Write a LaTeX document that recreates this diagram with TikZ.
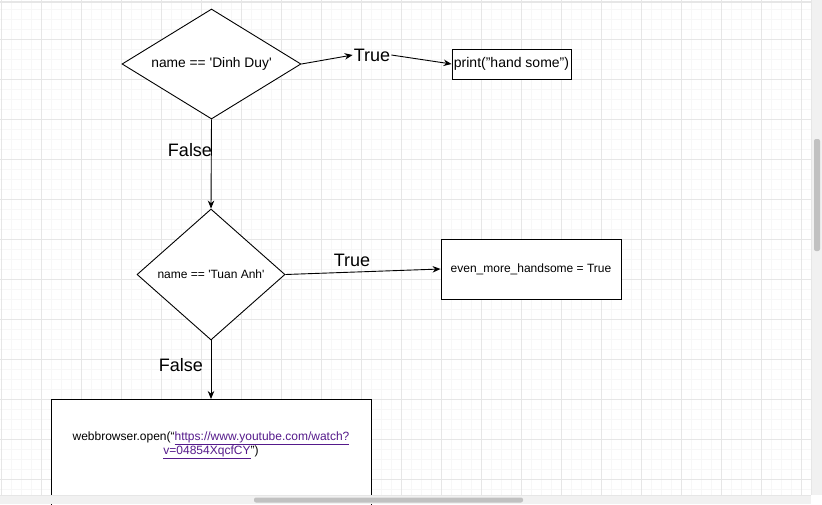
\documentclass[tikz,border=0pt]{standalone}
\usepackage{fontspec}
\setmainfont{Liberation Sans}
\usetikzlibrary{shapes.geometric,arrows.meta}
\definecolor{gridminor}{RGB}{247,247,247}
\definecolor{gridmajor}{RGB}{230,230,230}
\definecolor{sbbg}{RGB}{241,241,241}
\definecolor{sbthumb}{RGB}{193,193,193}
\definecolor{linkcol}{RGB}{85,26,139}
\tikzset{
  shapeline/.style={draw=black, line width=0.9pt},
  decision/.style={shapeline, diamond, inner sep=0pt, fill=white},
  procbox/.style={shapeline, rectangle, inner sep=0pt, fill=white},
  lbl/.style={inner sep=1pt, font=\fontsize{18}{20}\selectfont},
  arr/.style={line width=0.9pt, -{Stealth[length=8pt,width=6.5pt]}},
}
\begin{document}
\begin{tikzpicture}[x=1pt,y=-1pt]
\useasboundingbox (0,0) rectangle (822,504);
\clip (0,0) rectangle (822,504);
\fill[white] (0,0) rectangle (822,504);
% grid
\foreach \i in {0,...,81} {\draw[gridminor, line width=0.8pt] ({1+10*\i},0) -- ({1+10*\i},504);}
\foreach \j in {0,...,50} {\draw[gridminor, line width=0.8pt] (0,{-1+10*\j}) -- (822,{-1+10*\j});}
\foreach \i in {0,...,20} {\draw[gridmajor, line width=0.9pt] ({1+40*\i},0) -- ({1+40*\i},504);}
\foreach \j in {1,...,12} {\draw[gridmajor, line width=0.9pt] (0,{-1+40*\j}) -- (822,{-1+40*\j});}
\draw[gridmajor, line width=2pt] (0,1.5) -- (822,1.5);

% nodes
\node[decision, aspect=1.63, minimum width=179pt, minimum height=110pt,
      font=\fontsize{13.8}{16}\selectfont] (d1) at (211.5,64) {name == \textquotesingle Dinh Duy\textquotesingle};
\node[lbl] (t1) at (372,55) {True};
\node[procbox, minimum width=119pt, minimum height=30pt,
      font=\fontsize{14}{16}\selectfont] (p1) at (511.5,64) {print("hand some")};
\node[lbl] (f1) at (190,150) {False};
\node[decision, aspect=1.13, minimum width=148pt, minimum height=131pt,
      font=\fontsize{12}{14}\selectfont] (d2) at (211,274.5) {name == \textquotesingle Tuan Anh\textquotesingle};
\node[lbl] (t2) at (352,260) {True};
\node[procbox, minimum width=180pt, minimum height=60pt,
      font=\fontsize{12}{14}\selectfont] (b2) at (531,269) {even\_more\_handsome = True};
\node[lbl] (f2) at (181,365) {False};
\node[procbox, minimum width=320pt, minimum height=130pt, anchor=north] (b3) at (211,399) {};
\node[inner sep=0pt, align=center, font=\fontsize{12}{14}\selectfont] (b3txt) at (211,445)
  {webbrowser.open(“\textcolor{linkcol}{\underline{https://www.youtube.com/watch?}}\\
   \textcolor{linkcol}{\underline{v=04854XqcfCY}}")};

% connectors
\draw[arr] (d1.east) -- (t1.west);
\draw[arr] (t1.east) -- (p1.west);
\draw[arr] (d1.south) -- (d2.north);
\draw[arr] (d2.east) -- (b2.west);
\draw[arr] (d2.south) -- (b3.north);

% scrollbars
\fill[sbbg] (811,0) rectangle (822,495);
\draw[gridmajor, line width=0.8pt] (811,0) -- (811,495);
\fill[sbthumb, rounded corners=2pt] (814,139) rectangle (820,251);
\fill[sbbg] (0,495) rectangle (811,504);
\draw[gridmajor, line width=0.8pt] (0,495) -- (811,495);
\fill[sbthumb, rounded corners=2pt] (254,497.5) rectangle (523,502.5);
\fill[white] (811,495) rectangle (822,504);
\end{tikzpicture}
\end{document}
